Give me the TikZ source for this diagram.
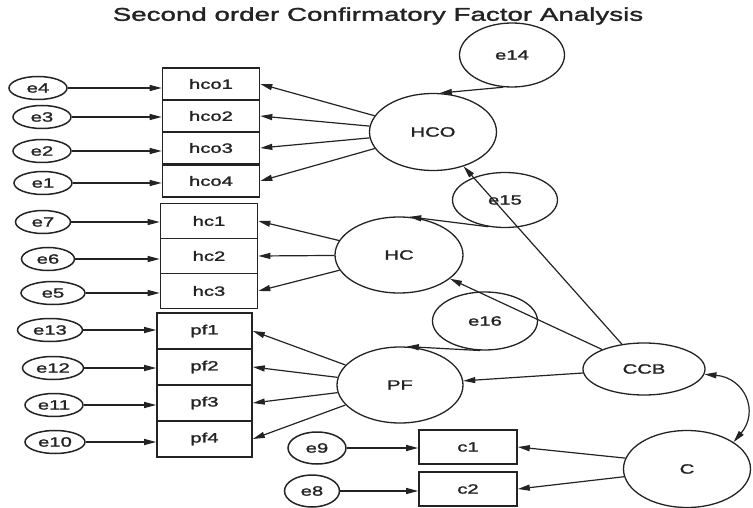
\documentclass[tikz,border=0pt]{standalone}
\usepackage{fontspec}
\setmainfont{Liberation Sans}[FakeStretch=1.5, FakeBold=1.6]
\definecolor{scanink}{RGB}{35, 35, 35}
\usetikzlibrary{shapes.geometric, arrows.meta, positioning}

\begin{document}
\begin{tikzpicture}[
  x=1pt, y=-1pt,
  every node/.style={text=scanink, font=\fontsize{13.5}{15}\selectfont},
  obsbox/.style={draw=scanink, line width=1.6pt, minimum width=97pt, minimum height=33pt, inner sep=0pt},
  errell/.style={draw=scanink, ellipse, line width=1.5pt, minimum width=58pt, minimum height=23pt, inner sep=0pt},
  latent/.style={draw=scanink, ellipse, line width=1.3pt, minimum width=127pt, minimum height=77pt, inner sep=0pt},
  regarrow/.style={draw=scanink, line width=1.2pt, -{Triangle[length=12pt, width=6pt]}},
  covarrow/.style={draw=scanink, line width=1.2pt, {Triangle[length=12pt, width=6pt]}-{Triangle[length=12pt, width=6pt]}}
]
  \useasboundingbox (0,0) rectangle (753,508);

  \node[font=\fontsize{18.5}{20}\selectfont] (title) at (378,16) {Second order Confirmatory Factor Analysis};

  % indicator boxes
  \node[obsbox, minimum height=32pt] (hco1) at (211,84) {hco1};
  \node[obsbox, minimum height=32pt] (hco2) at (211,116) {hco2};
  \node[obsbox, minimum height=32pt] (hco3) at (211,148) {hco3};
  \node[obsbox, minimum height=32pt] (hco4) at (211,181) {hco4};
  \node[obsbox, minimum height=35pt] (hc1) at (209,221) {hc1};
  \node[obsbox, minimum height=35pt] (hc2) at (209,256) {hc2};
  \node[obsbox, minimum height=35pt] (hc3) at (209,291) {hc3};
  \node[obsbox, minimum width=95pt, minimum height=36pt] (pf1) at (204.5,331) {pf1};
  \node[obsbox, minimum width=95pt, minimum height=36pt] (pf2) at (204.5,367) {pf2};
  \node[obsbox, minimum width=95pt, minimum height=36pt] (pf3) at (204.5,403) {pf3};
  \node[obsbox, minimum width=95pt, minimum height=36pt] (pf4) at (204.5,439) {pf4};
  \node[obsbox, minimum width=98pt, minimum height=34pt] (c1) at (468,447) {c1};
  \node[obsbox, minimum width=98pt, minimum height=34pt] (c2) at (468,489) {c2};

  % error terms
  \node[errell] (e4) at (38,88) {e4};
  \node[errell] (e3) at (42,117) {e3};
  \node[errell] (e2) at (42,151) {e2};
  \node[errell] (e1) at (43,183) {e1};
  \node[errell, minimum width=55pt] (e7) at (43,222) {e7};
  \node[errell, minimum width=53pt] (e6) at (48,259) {e6};
  \node[errell, minimum width=64pt] (e5) at (53,293) {e5};
  \node[errell, minimum width=65pt] (e13) at (50,330) {e13};
  \node[errell, minimum width=61pt] (e12) at (53,368) {e12};
  \node[errell] (e11) at (54,405) {e11};
  \node[errell, minimum width=60pt] (e10) at (55,442) {e10};
  \node[errell, minimum height=32pt] (e9) at (317,448) {e9};
  \node[errell, minimum width=55pt, minimum height=32pt] (e8) at (312,491) {e8};

  % latent factors
  \node[latent] (HCO) at (433,132) {HCO};
  \node[latent, minimum width=128pt, minimum height=76pt] (HC) at (399,255) {HC};
  \node[latent, minimum width=126pt, minimum height=76pt] (PF) at (400,385) {PF};
  \node[latent, minimum width=122pt, minimum height=52pt] (CCB) at (644,369) {CCB};
  \node[latent] (C) at (687,469) {C};
  \node[latent, minimum width=105pt, minimum height=64pt] (e14) at (512,55) {e14};
  \node[latent, minimum width=105pt, minimum height=55pt] (e15) at (505,200) {e15};
  \node[latent, minimum width=105pt, minimum height=58pt] (e16) at (485,321) {e16};

  % errors to indicators
  \draw[regarrow] (e4) -- (e4 -| hco1.west);
  \draw[regarrow] (e3) -- (e3 -| hco2.west);
  \draw[regarrow] (e2) -- (e2 -| hco3.west);
  \draw[regarrow] (e1) -- (e1 -| hco4.west);
  \draw[regarrow] (e7) -- (e7 -| hc1.west);
  \draw[regarrow] (e6) -- (e6 -| hc2.west);
  \draw[regarrow] (e5) -- (e5 -| hc3.west);
  \draw[regarrow] (e13) -- (e13 -| pf1.west);
  \draw[regarrow] (e12) -- (e12 -| pf2.west);
  \draw[regarrow] (e11) -- (e11 -| pf3.west);
  \draw[regarrow] (e10) -- (e10 -| pf4.west);
  \draw[regarrow] (e9) -- (e9 -| c1.west);
  \draw[regarrow] (e8) -- (e8 -| c2.west);

  % loadings
  \draw[regarrow] (HCO) -- (hco1.east);
  \draw[regarrow] (HCO) -- (hco2.east);
  \draw[regarrow] (HCO) -- (hco3.east);
  \draw[regarrow] (HCO) -- (hco4.east);
  \draw[regarrow] (HC) -- (hc1.east);
  \draw[regarrow] (HC) -- (hc2.east);
  \draw[regarrow] (HC) -- (hc3.east);
  \draw[regarrow] (PF) -- (pf1.east);
  \draw[regarrow] (PF) -- (pf2.east);
  \draw[regarrow] (PF) -- (pf3.east);
  \draw[regarrow] (PF) -- (pf4.east);
  \draw[regarrow] (C.170) -- (c1.east);
  \draw[regarrow] (C.187) -- (c2.east);

  % second order part
  \draw[regarrow] (e14.255) -- (HCO.80);
  \draw[regarrow] (e15.238) -- (HC.75);
  \draw[regarrow] (e16.260) -- (PF.80);
  \draw[regarrow] (CCB) -- (HCO);
  \draw[regarrow] (CCB) -- (HC);
  \draw[regarrow] (CCB) -- (PF);
  \draw[covarrow] (CCB.355) to[out=-5, in=50, looseness=1.4] (C.30);
\end{tikzpicture}
\end{document}
